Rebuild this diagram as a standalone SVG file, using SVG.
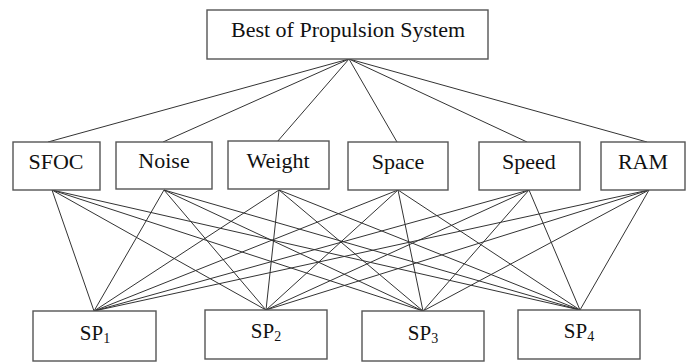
<svg xmlns="http://www.w3.org/2000/svg" width="687" height="363" viewBox="0 0 687 363">
<style>
.box{fill:#fff;stroke:#555;stroke-width:1.4}
.lbl{font-family:"Liberation Serif","Times New Roman",serif;font-size:22px;fill:#111;text-anchor:middle}
.sp{font-family:"Liberation Serif","Times New Roman",serif;font-size:21px;fill:#111;text-anchor:middle}
.sub{font-size:14px}
#connectors line{stroke:#333;stroke-width:1}
</style>
<rect width="687" height="363" fill="#fff"/>
<g id="connectors">
<line x1="349" y1="59" x2="48" y2="142"/>
<line x1="349" y1="59" x2="163" y2="142"/>
<line x1="349" y1="59" x2="277" y2="142"/>
<line x1="349" y1="59" x2="397" y2="142"/>
<line x1="349" y1="59" x2="527" y2="142"/>
<line x1="349" y1="59" x2="647" y2="142"/>
<line x1="52" y1="190" x2="94" y2="311"/>
<line x1="52" y1="190" x2="266" y2="310"/>
<line x1="52" y1="190" x2="423" y2="311"/>
<line x1="52" y1="190" x2="580" y2="310"/>
<line x1="164" y1="190" x2="94" y2="311"/>
<line x1="164" y1="190" x2="266" y2="310"/>
<line x1="164" y1="190" x2="423" y2="311"/>
<line x1="164" y1="190" x2="580" y2="310"/>
<line x1="279" y1="190" x2="94" y2="311"/>
<line x1="279" y1="190" x2="266" y2="310"/>
<line x1="279" y1="190" x2="423" y2="311"/>
<line x1="279" y1="190" x2="580" y2="310"/>
<line x1="398" y1="190" x2="94" y2="311"/>
<line x1="398" y1="190" x2="266" y2="310"/>
<line x1="398" y1="190" x2="423" y2="311"/>
<line x1="398" y1="190" x2="580" y2="310"/>
<line x1="529" y1="190" x2="94" y2="311"/>
<line x1="529" y1="190" x2="266" y2="310"/>
<line x1="529" y1="190" x2="423" y2="311"/>
<line x1="529" y1="190" x2="580" y2="310"/>
<line x1="649" y1="190" x2="94" y2="311"/>
<line x1="649" y1="190" x2="266" y2="310"/>
<line x1="649" y1="190" x2="423" y2="311"/>
<line x1="649" y1="190" x2="580" y2="310"/>
</g>
<g id="best"><rect class="box" x="207" y="10" width="281" height="49"/><text class="lbl" x="348" y="37">Best of Propulsion System</text></g>
<g id="sfoc"><rect class="box" x="13" y="142" width="87" height="48"/><text class="lbl" x="56" y="169">SFOC</text></g>
<g id="noise"><rect class="box" x="116" y="142" width="96" height="47"/><text class="lbl" x="164" y="168">Noise</text></g>
<g id="weight"><rect class="box" x="228" y="141" width="101" height="48"/><text class="lbl" x="278" y="168">Weight</text></g>
<g id="space"><rect class="box" x="348" y="142" width="100" height="48"/><text class="lbl" x="398" y="169">Space</text></g>
<g id="speed"><rect class="box" x="479" y="142" width="101" height="48"/><text class="lbl" x="529" y="169">Speed</text></g>
<g id="ram"><rect class="box" x="601" y="142" width="84" height="48"/><text class="lbl" x="643" y="169">RAM</text></g>
<g id="sp1"><rect class="box" x="33" y="311" width="123" height="50"/><text class="sp" x="95" y="340">SP<tspan class="sub" dy="3">1</tspan></text></g>
<g id="sp2"><rect class="box" x="205" y="310" width="122" height="49"/><text class="sp" x="266" y="338">SP<tspan class="sub" dy="3">2</tspan></text></g>
<g id="sp3"><rect class="box" x="362" y="311" width="122" height="50"/><text class="sp" x="423" y="340">SP<tspan class="sub" dy="3">3</tspan></text></g>
<g id="sp4"><rect class="box" x="518" y="310" width="122" height="49"/><text class="sp" x="579" y="338">SP<tspan class="sub" dy="3">4</tspan></text></g>
</svg>
